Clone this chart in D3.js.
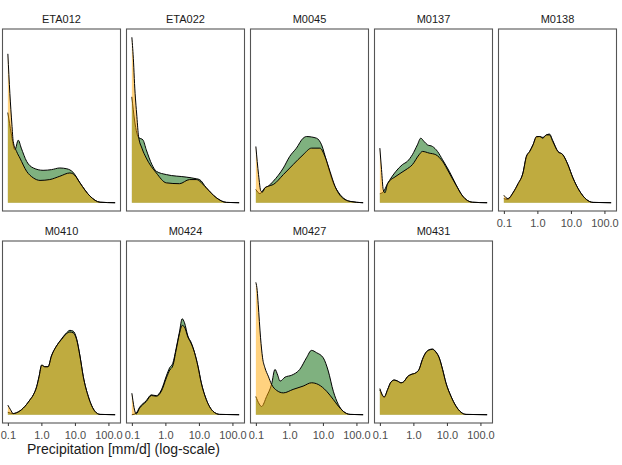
<!DOCTYPE html>
<html>
<head>
  <meta charset="utf-8" />
  <script src="https://d3js.org/d3.v7.min.js"></script>
  <style>
    body {
      margin: 0;
      padding: 0;
      background-color: #ffffff;
    }
    text {
      font-family: "Liberation Sans", Arial, sans-serif;
    }
    .strip {
      font-size: 11px;
      fill: #1a1a1a;
      text-anchor: middle;
    }
    .axis-title {
      font-size: 14px;
      fill: #1a1a1a;
      text-anchor: middle;
    }
  </style>
</head>
<body>
  <svg id="chart" width="622" height="465"></svg>
  <script>
    // stations, in facet order (5 per row)
    const stations = ["ETA012", "ETA022", "M0045", "M0137", "M0138",
                      "M0410", "M0424", "M0427", "M0431"];
    const xTicks = [0.1, 1, 10, 100];

    // density curves, points are [log10(precip mm/d), density]
    const densGreen = [
      [[-1,0.545],[-0.9,0.42],[-0.79,0.32],[-0.69,0.378],[-0.6,0.33],[-0.44,0.25],[-0.24,0.21],[0.05,0.196],[0.3,0.2],[0.55,0.21],[0.76,0.205],[0.94,0.185],[1.15,0.12],[1.45,0.04],[1.75,0.003],[2.2,0]],
      [[-1,0.64],[-0.92,0.5],[-0.85,0.42],[-0.8,0.395],[-0.67,0.38],[-0.57,0.32],[-0.4,0.23],[-0.27,0.19],[0.03,0.17],[0.62,0.155],[0.92,0.145],[1.02,0.14],[1.22,0.09],[1.52,0.03],[1.82,0.002],[2.2,0]],
      [[-1,0.08],[-0.88,0.055],[-0.73,0.09],[-0.63,0.1],[-0.48,0.13],[-0.18,0.21],[0.01,0.28],[0.21,0.33],[0.41,0.39],[0.51,0.4],[0.81,0.39],[0.96,0.35],[1.11,0.25],[1.31,0.12],[1.51,0.05],[1.81,0.008],[2.2,0]],
      [[-1,0.055],[-0.9,0.065],[-0.77,0.115],[-0.52,0.19],[-0.33,0.23],[-0.18,0.25],[-0.03,0.29],[0.12,0.35],[0.22,0.39],[0.32,0.37],[0.42,0.35],[0.57,0.34],[0.72,0.31],[0.87,0.26],[1.07,0.19],[1.27,0.11],[1.47,0.04],[1.76,0.003],[2.2,0]],
      [[-1,0.025],[-0.88,0.02],[-0.73,0.058],[-0.58,0.11],[-0.43,0.18],[-0.33,0.275],[-0.23,0.31],[-0.13,0.35],[-0.03,0.395],[0.07,0.4],[0.16,0.395],[0.27,0.41],[0.36,0.415],[0.46,0.375],[0.61,0.31],[0.76,0.29],[0.91,0.23],[1.06,0.15],[1.26,0.07],[1.46,0.02],[1.66,0.002],[2.2,0]],
      [[-1,0.015],[-0.84,0.007],[-0.74,0.012],[-0.54,0.04],[-0.34,0.09],[-0.24,0.12],[-0.14,0.17],[-0.07,0.23],[0.01,0.3],[0.1,0.29],[0.2,0.29],[0.3,0.355],[0.45,0.415],[0.6,0.458],[0.75,0.495],[0.85,0.51],[0.95,0.505],[1.05,0.46],[1.15,0.355],[1.25,0.23],[1.4,0.11],[1.6,0.02],[1.75,0.002],[2.2,0]],
      [[-1,0.0],[-0.87,0.01],[-0.77,0.045],[-0.57,0.085],[-0.42,0.12],[-0.27,0.115],[-0.12,0.15],[0.03,0.235],[0.13,0.285],[0.22,0.31],[0.32,0.4],[0.42,0.5],[0.5,0.58],[0.57,0.556],[0.67,0.476],[0.77,0.436],[0.87,0.375],[0.97,0.294],[1.07,0.193],[1.22,0.092],[1.42,0.021],[1.62,0.002],[2.2,0]],
      [[-1,0.11],[-0.9,0.065],[-0.83,0.05],[-0.68,0.11],[-0.53,0.185],[-0.43,0.274],[-0.35,0.24],[-0.28,0.203],[-0.13,0.227],[0.07,0.239],[0.31,0.274],[0.51,0.344],[0.66,0.389],[0.81,0.375],[1.01,0.344],[1.16,0.264],[1.31,0.142],[1.46,0.062],[1.61,0.02],[1.81,0.002],[2.2,0]],
      [[-1,0.15],[-0.87,0.105],[-0.77,0.15],[-0.67,0.197],[-0.57,0.21],[-0.47,0.203],[-0.37,0.193],[-0.27,0.203],[-0.18,0.229],[-0.07,0.243],[0.07,0.253],[0.17,0.274],[0.27,0.334],[0.37,0.375],[0.47,0.393],[0.57,0.397],[0.67,0.38],[0.77,0.344],[0.87,0.274],[0.97,0.193],[1.12,0.112],[1.27,0.052],[1.42,0.015],[1.57,0.002],[2.2,0]]
    ];

    const densOrange = [
      [[-1,0.9],[-0.94,0.66],[-0.88,0.475],[-0.84,0.37],[-0.74,0.31],[-0.64,0.27],[-0.44,0.19],[-0.24,0.15],[-0.04,0.135],[0.25,0.14],[0.55,0.16],[0.85,0.18],[1.0,0.165],[1.15,0.12],[1.45,0.04],[1.75,0.003],[2.2,0]],
      [[-1,1.0],[-0.95,0.85],[-0.92,0.72],[-0.85,0.52],[-0.8,0.4],[-0.7,0.33],[-0.57,0.27],[-0.27,0.18],[0.03,0.12],[0.42,0.115],[0.72,0.14],[0.92,0.14],[1.22,0.09],[1.52,0.03],[1.82,0.002],[2.2,0]],
      [[-1,0.34],[-0.92,0.17],[-0.85,0.07],[-0.8,0.065],[-0.73,0.09],[-0.63,0.1],[-0.48,0.11],[-0.18,0.17],[0.11,0.23],[0.41,0.29],[0.66,0.33],[0.91,0.33],[1.06,0.28],[1.21,0.19],[1.36,0.1],[1.51,0.045],[1.81,0.008],[2.2,0]],
      [[-1,0.33],[-0.95,0.2],[-0.9,0.08],[-0.85,0.06],[-0.77,0.115],[-0.52,0.16],[-0.22,0.2],[-0.03,0.23],[0.17,0.29],[0.27,0.31],[0.47,0.3],[0.67,0.29],[0.87,0.25],[1.07,0.18],[1.27,0.107],[1.47,0.04],[1.76,0.003],[2.2,0]],
      [[-1,0.045],[-0.88,0.025],[-0.73,0.06],[-0.58,0.115],[-0.43,0.18],[-0.33,0.28],[-0.23,0.31],[-0.13,0.35],[-0.03,0.4],[0.07,0.4],[0.16,0.39],[0.27,0.41],[0.36,0.41],[0.46,0.37],[0.61,0.31],[0.76,0.29],[0.91,0.23],[1.06,0.15],[1.26,0.07],[1.46,0.02],[1.66,0.002],[2.2,0]],
      [[-1,0.058],[-0.92,0.03],[-0.84,0.007],[-0.74,0.012],[-0.54,0.04],[-0.34,0.09],[-0.24,0.12],[-0.14,0.17],[-0.07,0.23],[0.01,0.3],[0.1,0.29],[0.2,0.29],[0.3,0.355],[0.45,0.415],[0.6,0.455],[0.75,0.49],[0.85,0.5],[0.95,0.495],[1.05,0.455],[1.15,0.355],[1.25,0.23],[1.4,0.11],[1.6,0.02],[1.75,0.002],[2.2,0]],
      [[-1,0.13],[-0.87,0.005],[-0.77,0.04],[-0.57,0.08],[-0.42,0.116],[-0.27,0.112],[-0.12,0.142],[0.03,0.223],[0.13,0.27],[0.22,0.295],[0.32,0.39],[0.42,0.49],[0.5,0.54],[0.57,0.53],[0.67,0.47],[0.77,0.43],[0.87,0.375],[0.97,0.294],[1.07,0.193],[1.22,0.092],[1.42,0.021],[1.62,0.002],[2.2,0]],
      [[-1,0.8],[-0.96,0.75],[-0.93,0.668],[-0.86,0.465],[-0.8,0.344],[-0.73,0.284],[-0.63,0.233],[-0.53,0.183],[-0.38,0.147],[-0.18,0.132],[0.11,0.153],[0.41,0.173],[0.66,0.193],[0.86,0.183],[1.11,0.142],[1.31,0.092],[1.46,0.052],[1.61,0.02],[1.81,0.002],[2.2,0]],
      [[-1,0.158],[-0.87,0.108],[-0.77,0.152],[-0.67,0.197],[-0.57,0.209],[-0.47,0.203],[-0.37,0.193],[-0.27,0.203],[-0.18,0.229],[-0.07,0.243],[0.07,0.253],[0.17,0.274],[0.27,0.334],[0.37,0.375],[0.47,0.391],[0.57,0.395],[0.67,0.379],[0.77,0.344],[0.87,0.274],[0.97,0.193],[1.12,0.112],[1.27,0.052],[1.42,0.015],[1.57,0.002],[2.2,0]]
    ];

    const svg = d3.select("#chart");
    const nCol = 5;

    // facet grid
    const col = d3.scaleBand().domain(d3.range(nCol)).range([2.5, 616.5]).paddingInner(6 / 124);
    const row = d3.scaleBand().domain([0, 1]).range([29, 423]).paddingInner(30 / 212);
    const pw = col.bandwidth();
    const ph = row.bandwidth();

    // shared scales, ggplot-like 5% expansion
    const allPts = densGreen.concat(densOrange).flat();
    const lx = d3.extent(allPts, d => d[0]);
    const padX = 0.05 * (lx[1] - lx[0]);
    const x = d3.scaleLog()
      .domain([Math.pow(10, lx[0] - padX), Math.pow(10, lx[1] + padX)])
      .range([0, pw]);
    const yMax = d3.max(allPts, d => d[1]);
    const y = d3.scaleLinear()
      .domain([-0.05 * yMax, 1.05 * yMax])
      .range([ph, 0]);

    const area = d3.area()
      .x(d => x(Math.pow(10, d[0])))
      .y0(y(0))
      .y1(d => y(d[1]))
      .curve(d3.curveMonotoneX);
    const line = d3.line()
      .x(d => x(Math.pow(10, d[0])))
      .y(d => y(d[1]))
      .curve(d3.curveMonotoneX);

    stations.forEach((name, i) => {
      const c = i % nCol, r = Math.floor(i / nCol);
      const g = svg.append("g")
        .attr("transform", `translate(${col(c)},${row(r)})`);

      g.append("text")
        .attr("class", "strip")
        .attr("x", pw / 2)
        .attr("y", -6)
        .text(name);

      // green first, orange drawn over it
      g.append("path").datum(densGreen[i])
        .attr("d", area)
        .attr("fill", "#006400").attr("fill-opacity", 0.5);
      g.append("path").datum(densGreen[i])
        .attr("d", line)
        .attr("fill", "none").attr("stroke", "#000").attr("stroke-width", 1);

      g.append("path").datum(densOrange[i])
        .attr("d", area)
        .attr("fill", "#FFA500").attr("fill-opacity", 0.5);
      g.append("path").datum(densOrange[i])
        .attr("d", line)
        .attr("fill", "none").attr("stroke", "#000").attr("stroke-width", 1);

      g.append("rect")
        .attr("width", pw).attr("height", ph)
        .attr("fill", "none")
        .attr("stroke", "#555").attr("stroke-width", 1.1);

      // x axis only under the lowest panel of each column
      const lowest = i + nCol >= stations.length;
      if (lowest) {
        const ax = g.append("g")
          .attr("transform", `translate(0,${ph})`)
          .call(d3.axisBottom(x)
            .tickValues(xTicks)
            .tickFormat(d3.format(".1f"))
            .tickSize(3)
            .tickPadding(5)
            .tickSizeOuter(0));
        ax.select(".domain").remove();
        ax.selectAll(".tick line").attr("stroke", "#333");
        ax.selectAll(".tick text")
          .attr("fill", "#4d4d4d")
          .style("font-size", "11px")
          .style("font-family", "'Liberation Sans', Arial, sans-serif");
      }
    });

    svg.append("text")
      .attr("class", "axis-title")
      .attr("x", (col(0) + col(1) + pw) / 2)
      .attr("y", 454)
      .text("Precipitation [mm/d] (log-scale)");
  </script>
</body>
</html>
